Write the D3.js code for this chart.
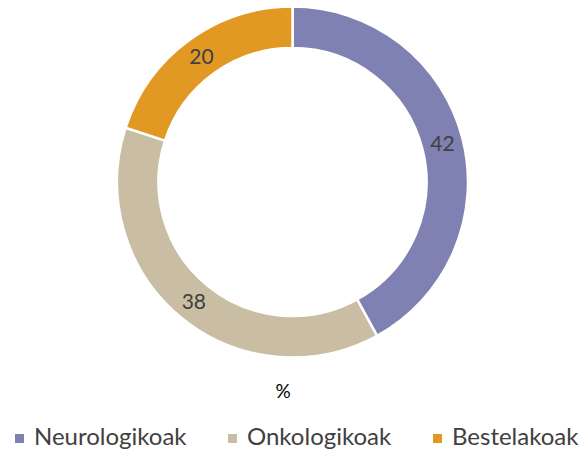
<!DOCTYPE html>
<html>
<head>
<meta charset="utf-8">
<script src="https://cdn.jsdelivr.net/npm/d3@7"></script>
<style>
  body { margin: 0; background: #fff; }
  text { font-family: Lato, "Open Sans", sans-serif; }
</style>
</head>
<body>
<svg id="chart" width="585" height="452"></svg>
<script>
// data
var categories = ["Neurologikoak", "Onkologikoak", "Bestelakoak"];
var values = [42, 38, 20];
var colors = ["#7f81b3", "#c9bea4", "#e29924"];
var title = "%";

var width = 585, height = 452;
var cx = 292.5, cy = 182;
var outerR = 175.5, innerR = 134;

var svg = d3.select("#chart");

var pie = d3.pie().sort(null).value(function(d) { return d.value; });
var arc = d3.arc().innerRadius(innerR).outerRadius(outerR);

var data = categories.map(function(c, i) {
  return {name: c, value: values[i], color: colors[i]};
});

var g = svg.append("g").attr("transform", "translate(" + cx + "," + cy + ")");

var slices = g.selectAll("g.slice")
  .data(pie(data))
  .enter()
    .append("g")
    .attr("class", "slice");

slices.append("path")
  .attr("d", arc)
  .attr("fill", function(d) { return d.data.color; })
  .attr("stroke", "#fff")
  .attr("stroke-width", 2.5);

slices.append("text")
  .attr("transform", function(d) { return "translate(" + arc.centroid(d) + ")"; })
  .attr("text-anchor", "middle")
  .attr("dy", "0.36em")
  .attr("font-size", 21)
  .attr("fill", "#404040")
  .text(function(d) { return d.data.value; });

// title under the ring
svg.append("text")
  .attr("x", 283)
  .attr("y", 398)
  .attr("text-anchor", "middle")
  .attr("font-size", 19)
  .attr("fill", "#000")
  .text(title);

// legend
var legendX = [15, 228, 433];
var legend = svg.selectAll("g.legend")
  .data(data)
  .enter()
    .append("g")
    .attr("class", "legend")
    .attr("transform", function(d, i) { return "translate(" + legendX[i] + ",445)"; });

legend.append("rect")
  .attr("x", 0)
  .attr("y", -11)
  .attr("width", 9)
  .attr("height", 9)
  .attr("fill", function(d) { return d.color; });

legend.append("text")
  .attr("x", 19)
  .attr("font-size", 24)
  .attr("fill", "#404040")
  .text(function(d) { return d.name; });
</script>
</body>
</html>
